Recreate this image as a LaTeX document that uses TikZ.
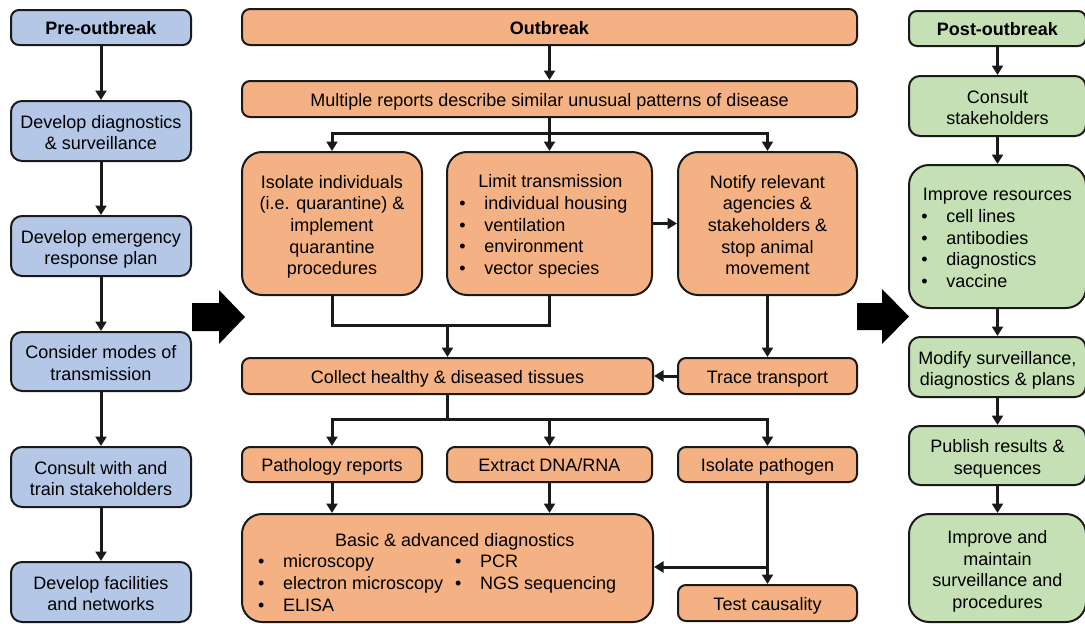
\documentclass[tikz,border=0pt]{standalone}
\usepackage{fontspec}
\setmainfont{Liberation Sans}
\usetikzlibrary{arrows.meta}
\definecolor{bluef}{HTML}{B4C7E7}
\definecolor{orf}{HTML}{F4B183}
\definecolor{grf}{HTML}{C5E0B4}
\definecolor{edgec}{HTML}{1A1A1A}
\newcommand{\bl}{\makebox[25pt][l]{\textbullet}}
\newcommand{\fs}{\rule{0pt}{21pt}}
\newcommand{\ff}{\fontsize{18}{21.7}\selectfont}
\begin{document}
\begin{tikzpicture}[x=1pt,y=-1pt,
  box/.style={draw=edgec, line width=2pt, inner sep=0pt, align=center, font=\ff, rounded corners=8pt,
    execute at begin node={\rule{0pt}{19.7pt}}, execute at end node={\rule[-5pt]{0pt}{5pt}}},
  bbox/.style={box, fill=bluef},
  obox/.style={box, fill=orf},
  gbox/.style={box, fill=grf},
  big/.style={rounded corners=20pt},
  mid/.style={rounded corners=11pt},
  txt/.style={inner sep=0pt, font=\ff, align=left, anchor=west},
  arr/.style={line width=3pt, draw=edgec, -{Triangle[width=11pt,length=9.5pt]}},
  ln/.style={line width=3pt, draw=edgec}
]
\useasboundingbox (0,0) rectangle (1085,624);

% ---------- left column ----------
\node[bbox, minimum width=180pt, minimum height=35pt] (pre) at (101,27.5) {\textbf{Pre-outbreak}};
\node[bbox, mid, minimum width=180pt, minimum height=60pt] (l2) at (101,131) {\fs Develop diagnostics\\\& surveillance};
\node[bbox, mid, minimum width=180pt, minimum height=60pt] (l3) at (101,246) {\fs Develop emergency\\response plan};
\node[bbox, mid, minimum width=180pt, minimum height=59pt] (l4) at (101,361.5) {\fs Consider modes of\\transmission};
\node[bbox, mid, minimum width=180pt, minimum height=60pt] (l5) at (101,477) {\fs Consult with and\\train stakeholders};
\node[bbox, mid, minimum width=180pt, minimum height=60pt] (l6) at (101,592) {\fs Develop facilities\\and networks};
\draw[arr] (pre) -- (l2);
\draw[arr] (l2) -- (l3);
\draw[arr] (l3) -- (l4);
\draw[arr] (l4) -- (l5);
\draw[arr] (l5) -- (l6);

% ---------- centre column ----------
\node[obox, minimum width=615pt, minimum height=36pt] (out) at (549.5,27) {\textbf{Outbreak}};
\node[obox, minimum width=615pt, minimum height=36pt] (multi) at (549.5,99) {Multiple reports describe similar unusual patterns of disease};
\node[obox, big, minimum width=180pt, minimum height=143pt] (A) at (332,223.5) {\fs Isolate individuals\\(i.e. quarantine) \&\\implement\\quarantine\\procedures};
\node[obox, big, minimum width=205pt, minimum height=143pt] (B) at (549.5,223.5) {};
\node[txt] (Bt) at (459.2,226.5) {\hspace*{19pt}Limit transmission\\\bl individual housing\\\bl ventilation\\\bl environment\\\bl vector species};
\node[obox, big, minimum width=179pt, minimum height=143pt] (C) at (767.5,223.5) {\fs Notify relevant\\agencies \&\\stakeholders \&\\stop animal\\movement};
\node[obox, minimum width=411pt, minimum height=36pt] (coll) at (447.5,376) {Collect healthy \& diseased tissues};
\node[obox, minimum width=179pt, minimum height=36pt] (trace) at (767.5,376) {Trace transport};
\node[obox, minimum width=180pt, minimum height=35pt] (path) at (332,464.5) {Pathology reports};
\node[obox, minimum width=205pt, minimum height=35pt] (extr) at (549.5,464.5) {Extract DNA/RNA};
\node[obox, minimum width=179pt, minimum height=35pt] (iso) at (767.5,464.5) {Isolate pathogen};
\node[obox, big, minimum width=411pt, minimum height=108pt] (basic) at (447.5,568) {};
\node[txt] (basict) at (258,574.5) {\begin{tabular}{@{}p{197pt}@{}l@{}}
\multicolumn{2}{@{}l@{}}{\hspace*{77pt}Basic \& advanced diagnostics}\\
\bl microscopy & \bl PCR\\
\bl electron microscopy & \bl NGS sequencing\\
\bl ELISA & \end{tabular}};
\node[obox, minimum width=179pt, minimum height=36pt] (test) at (767.5,603) {Test causality};

\draw[arr] (out) -- (multi);
\coordinate (j1) at (549.5,133);
\draw[ln] (multi.south) -- (j1);
\draw[arr] (j1) -| (A.north);
\draw[arr] (j1) -- (B.north);
\draw[arr] (j1) -| (C.north);
\draw[arr] (B.east) -- (C.west);
\coordinate (j2) at (447.5,325);
\draw[ln, line join=miter] (A.south) -- (A.south |- j2) -- (B.south |- j2) -- (B.south);
\draw[arr] (j2) -- (coll.north);
\draw[arr] (C.south) -- (trace.north);
\draw[arr] (trace.west) -- (coll.east);
\coordinate (j3) at (447.5,419);
\draw[ln] (coll.south) -- (j3);
\draw[arr] (j3) -| (path.north);
\draw[arr] (j3) -| (extr.north);
\draw[arr] (j3) -| (iso.north);
\draw[arr] (path.south) -- (path.south |- basic.north);
\draw[arr] (extr.south) -- (extr.south |- basic.north);
\draw[arr] (iso.south) -- (test.north);
\coordinate (j4) at (767.5,567);
\draw[arr] (j4) -- (j4 -| basic.east);

% ---------- right column ----------
\node[gbox, minimum width=177pt, minimum height=35pt] (post) at (997.5,28.5) {\textbf{Post-outbreak}};
\node[gbox, mid, minimum width=177pt, minimum height=60pt] (r2) at (997.5,106) {\fs Consult\\stakeholders};
\node[gbox, big, minimum width=177pt, minimum height=143pt] (r3) at (997.5,236.5) {};
\node[txt] (r3t) at (921.2,238) {\hspace*{1.5pt}Improve resources\\\bl cell lines\\\bl antibodies\\\bl diagnostics\\\bl vaccine};
\node[gbox, mid, minimum width=177pt, minimum height=60pt] (r4) at (997.5,367) {\fs Modify surveillance,\\diagnostics \& plans};
\node[gbox, mid, minimum width=177pt, minimum height=59pt] (r5) at (997.5,455.5) {\fs Publish results \&\\sequences};
\node[gbox, big, minimum width=177pt, minimum height=108pt] (r6) at (997.5,568) {\fs Improve and\\maintain\\surveillance and\\procedures};
\draw[arr] (post) -- (r2);
\draw[arr] (r2) -- (r3);
\draw[arr] (r3) -- (r4);
\draw[arr] (r4) -- (r5);
\draw[arr] (r5) -- (r6);

% ---------- phase arrows ----------
\fill[black] (192,303) -- (219,303) -- (219,290) -- (245,317) -- (219,344) -- (219,331) -- (192,331) -- cycle;
\fill[black] (857,303) -- (882,303) -- (882,289) -- (909,316.5) -- (882,344) -- (882,330) -- (857,330) -- cycle;
\end{tikzpicture}
\end{document}
